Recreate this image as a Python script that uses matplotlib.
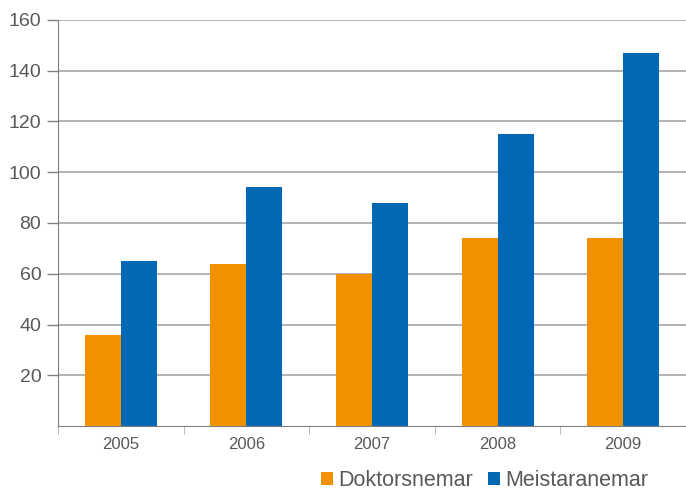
import matplotlib.pyplot as plt
import numpy as np

years = ["2005", "2006", "2007", "2008", "2009"]
doktor = [36, 64, 60, 74, 74]
meistar = [65, 94, 88, 115, 147]
labels = ["Doktorsnemar", "Meistaranemar"]

orange = "#F29100"
blue = "#0068B4"
txt = "#595959"

plt.rcParams["font.family"] = ["Liberation Sans", "DejaVu Sans"]

fig = plt.figure(figsize=(6.86, 4.9), dpi=100)
ax = fig.add_axes([0.0845, 0.1306, 0.9155, 0.8286])

x = np.arange(len(years))
w = 0.286
ax.bar(x - w / 2, doktor, w, color=orange, label=labels[0], zorder=3)
ax.bar(x + w / 2, meistar, w, color=blue, label=labels[1], zorder=3)

ax.set_xlim(-0.5, len(years) - 0.5)
ax.set_ylim(0, 160)
ax.set_yticks(np.arange(20, 161, 20))
ax.yaxis.grid(True, color="#a6a6a6", lw=1.2, zorder=0)
ax.tick_params(axis="y", length=8, width=1, color="#808080", labelsize=14, labelcolor=txt, pad=4)

ax.set_xticks(x)
ax.set_xticklabels(years)
ax.set_xticks(np.arange(-0.5, len(years), 1), minor=True)
ax.tick_params(axis="x", which="major", length=0, labelsize=12, labelcolor=txt, pad=8)
ax.tick_params(axis="x", which="minor", length=6, color="#b0b0b0")

for s in ["top", "right"]:
    ax.spines[s].set_visible(False)
ax.spines["left"].set_color("#7f7f7f")
ax.spines["bottom"].set_color("#7f7f7f")

leg = fig.legend(loc="center right", bbox_to_anchor=(0.958, 0.02), ncol=2, frameon=False,
                 fontsize=15.5, handlelength=0.55, handleheight=0.55, handletextpad=0.25,
                 columnspacing=0.7, borderaxespad=0.0)
for t in leg.get_texts():
    t.set_color(txt)

fig.savefig("out.png", dpi=100)
